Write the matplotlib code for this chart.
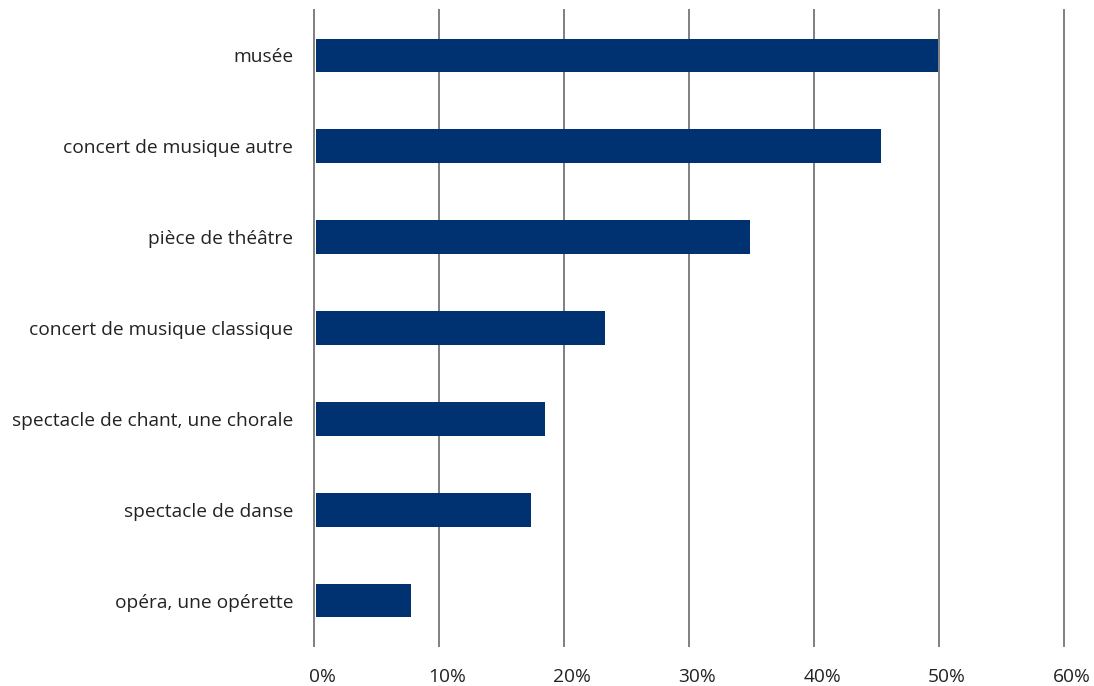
import matplotlib
matplotlib.use("Agg")
import matplotlib.pyplot as plt
from matplotlib.ticker import FuncFormatter
from matplotlib.transforms import ScaledTranslation

categories = ["musée", "concert de musique autre", "pièce de théâtre",
              "concert de musique classique", "spectacle de chant, une chorale",
              "spectacle de danse", "opéra, une opérette"]
values = [49.8, 45.2, 34.7, 23.1, 18.3, 17.2, 7.6]
xticks = [0, 10, 20, 30, 40, 50, 60]

plt.rcParams['font.family'] = ['Open Sans', 'DejaVu Sans']

fig = plt.figure(figsize=(10.94, 6.86), dpi=100)
ax = fig.add_axes([314/1094, 1-646/686, 750/1094, 636/686])

y = list(range(len(categories)))
ax.barh(y, values, height=0.37, color="#003170", left=0.15, zorder=3)
ax.set_ylim(len(categories)-0.5, -0.5)
ax.set_xlim(0, 60)
ax.set_yticks(y)
ax.set_yticklabels(categories, fontsize=13.8, color="#222222")
ax.set_xticks(xticks)
ax.xaxis.set_major_formatter(FuncFormatter(lambda v, p: f"{int(v)}%"))
ax.tick_params(axis='x', length=0, pad=16, labelsize=13.8, labelcolor="#222222")
ax.tick_params(axis='y', length=0, pad=15)
for s in ax.spines.values():
    s.set_visible(False)
for xt in xticks:
    ax.axvline(xt, color="#808080", linewidth=1.4, zorder=1, clip_on=False)

off = ScaledTranslation(8/100, 0, fig.dpi_scale_trans)
for lab in ax.get_xticklabels():
    lab.set_transform(lab.get_transform() + off)

fig.savefig("out.png", dpi=100)
